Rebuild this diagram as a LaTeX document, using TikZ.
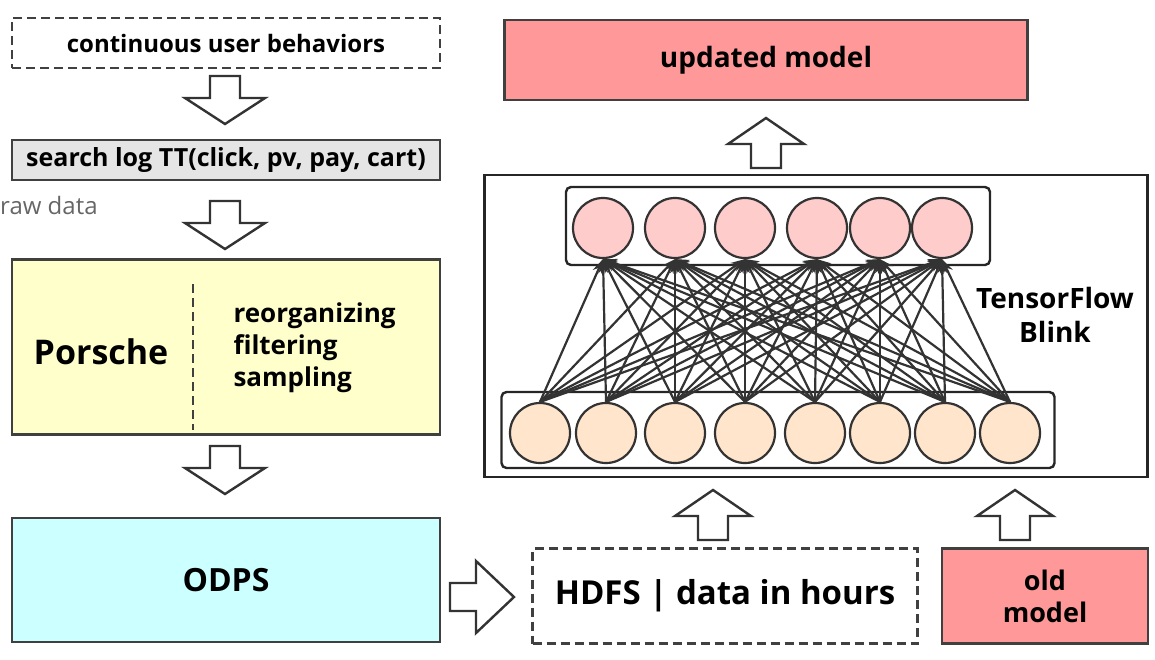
\documentclass[tikz,border=0pt]{standalone}
\usepackage{fontspec}
\setmainfont{Open Sans}
\usetikzlibrary{arrows.meta}
\definecolor{cyanf}{HTML}{CCFFFF}
\definecolor{yelf}{HTML}{FFFFCC}
\definecolor{redf}{HTML}{FF9999}
\definecolor{pinkf}{HTML}{FFCCCC}
\definecolor{orf}{HTML}{FFE5CC}
\begin{document}
\begin{tikzpicture}[x=1pt,y=-1pt,
  box/.style={draw=black!75,line width=2.6pt},
  dbox/.style={draw=black!75,line width=2.6pt,dash pattern=on 9pt off 5pt},
  lbl/.style={font=\bfseries\fontsize{24}{28}\selectfont,align=left},
  big/.style={font=\bfseries\fontsize{32}{36}\selectfont},
  hol/.style={draw=black!80,line width=2.4pt,fill=white},
  cu/.style={circle,draw=black!80,line width=2.2pt,fill=pinkf,minimum size=60pt,inner sep=0},
  cl/.style={circle,draw=black!80,line width=2.2pt,fill=orf,minimum size=60pt,inner sep=0},
  ed/.style={draw=black!80,line width=2.2pt,-{Stealth[length=14pt,width=10pt]}},
  pics/down/.style={code={\draw[hol] (-15,0)--(15,0)--(15,22)--(40,22)--(0,48)--(-40,22)--(-15,22)--cycle;}},
  pics/up/.style={code={\draw[hol] (-15,0)--(15,0)--(15,-24)--(38,-24)--(0,-50)--(-38,-24)--(-15,-24)--cycle;}},
  pics/right/.style={code={\draw[hol] (0,-14)--(0,14)--(26,14)--(26,36)--(64,0)--(26,-36)--(26,-14)--cycle;}}
]
\useasboundingbox (0,0) rectangle (1155,659);
% left column
\node[dbox,minimum width=428pt,minimum height=50pt,lbl] (cub) at (226,43) {continuous user behaviors};
\pic at (225,76) {down};
\node[box,fill=black!10,minimum width=428pt,minimum height=40pt,lbl,font=\bfseries\fontsize{25}{28}\selectfont] (slog) at (226,160) {search log TT(click, pv, pay, cart)};
\node[anchor=west,inner sep=0pt,text=black!60,font=\fontsize{24}{26}\selectfont] (raw) at (0,205) {raw data};
\pic at (225,201) {down};
\node[box,fill=yelf,minimum width=428pt,minimum height=175pt] (por) at (226,347) {};
\draw[line width=2.4pt,dash pattern=on 9pt off 5pt,black!75] (193,284) -- (193,430);
\node[big,font=\bfseries\fontsize{34}{38}\selectfont] (porl) at (101,352) {Porsche};
\node[lbl,anchor=west,font=\bfseries\fontsize{26}{32}\selectfont] (ops) at (230,348) {reorganizing\\filtering\\sampling};
\pic at (225,446) {down};
\node[box,fill=cyanf,minimum width=428pt,minimum height=124pt,big] (odps) at (226,580) {ODPS};
\pic at (450,597) {right};
\node[dbox,minimum width=385pt,minimum height=95pt,big,font=\bfseries\fontsize{33}{36}\selectfont] (hdfs) at (725,596) {HDFS | data in hours};
\node[box,fill=redf,minimum width=206pt,minimum height=95pt,align=center,font=\bfseries\fontsize{27}{32}\selectfont] (old) at (1045,596) {old\\model};
\pic at (713,540) {up};
\pic at (1015,540) {up};
% network
\node[draw=black!85,line width=2.4pt,minimum width=663pt,minimum height=302pt] (tf) at (816,326) {};
\node[draw=black!85,line width=2.4pt,rounded corners=5pt,minimum width=424pt,minimum height=78pt] (top) at (778,226) {};
\node[draw=black!85,line width=2.4pt,rounded corners=5pt,minimum width=553pt,minimum height=76pt] (bot) at (778,430) {};
\foreach \x [count=\i] in {603,675,745,817,880,942} \node[cu] (u\i) at (\x,228) {};
\foreach \x [count=\i] in {540,606,675,745,815,880,945,1010} \node[cl] (l\i) at (\x,433) {};
\foreach \i in {1,...,8} \foreach \j in {1,...,6} \draw[ed] (l\i.north) -- (u\j.south);
\node[lbl,align=center,font=\bfseries\fontsize{28}{34}\selectfont] (tfl) at (1055,315) {TensorFlow\\Blink};
\pic at (766,168) {up};
\node[box,fill=redf,minimum width=523pt,minimum height=80pt,font=\bfseries\fontsize{28}{30}\selectfont] (upd) at (766,60) {updated model};
\end{tikzpicture}
\end{document}
